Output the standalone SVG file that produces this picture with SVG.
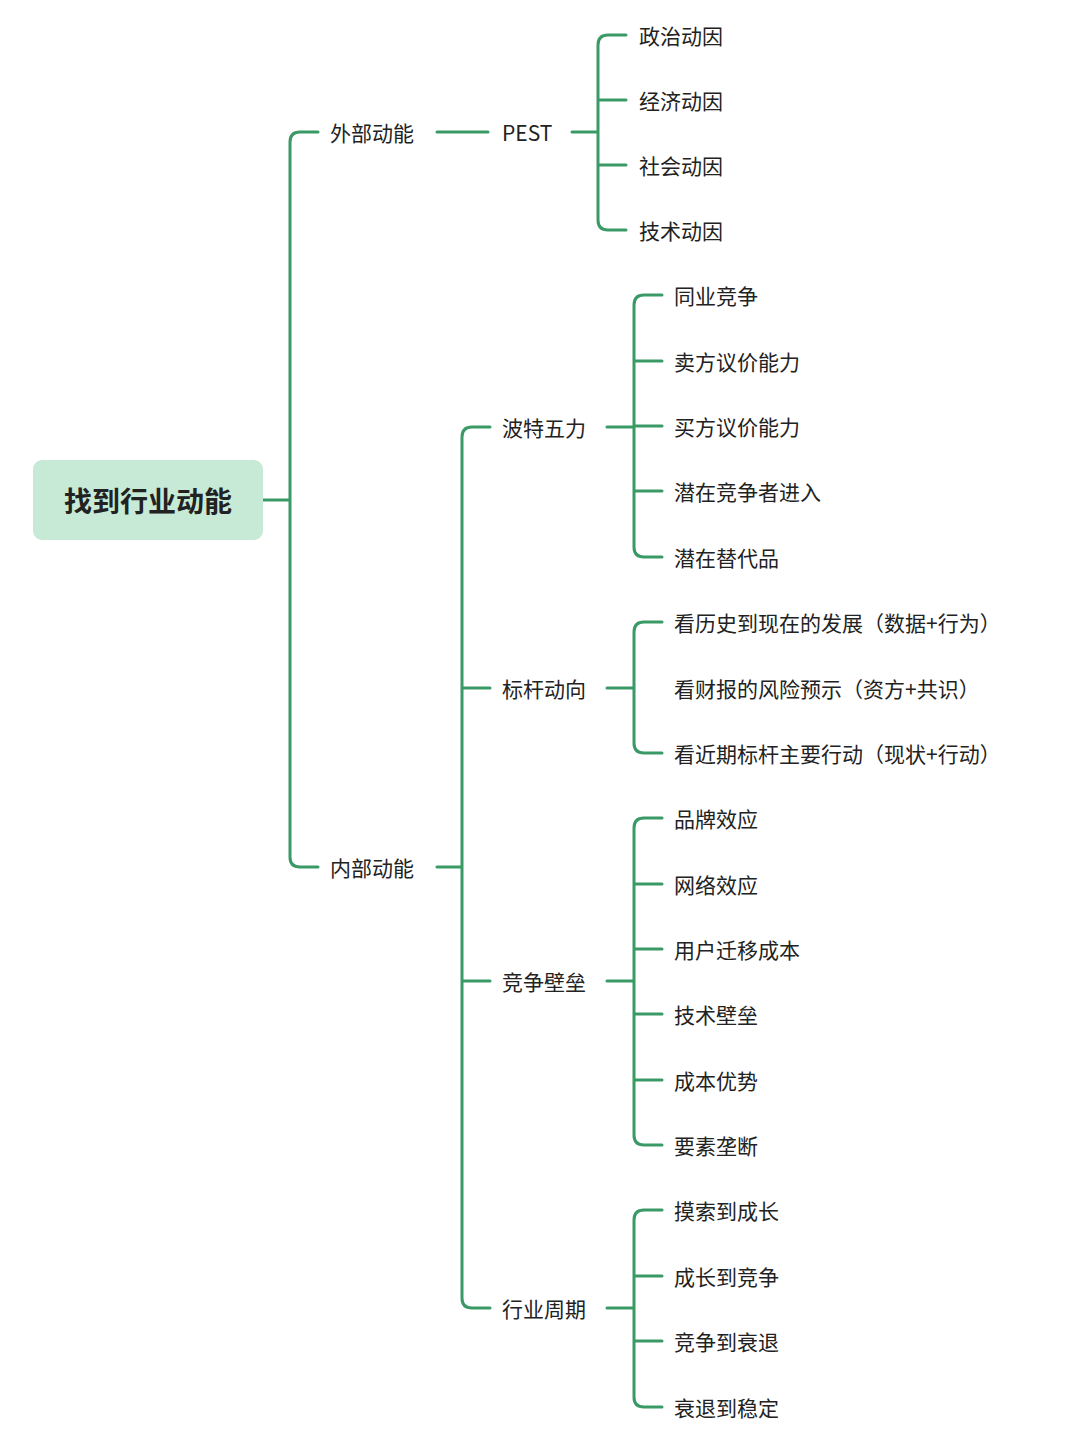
<svg xmlns="http://www.w3.org/2000/svg" width="1080" height="1440" viewBox="0 0 1080 1440">
<style>
text{font-family:"Noto Sans CJK SC","Noto Sans",sans-serif;font-size:21px;fill:#222;dominant-baseline:central}
.root{font-size:28px;font-weight:bold;text-anchor:middle}
.c{fill:none;stroke:#3a9a66;stroke-width:3;stroke-linecap:round}
</style>
<rect width="1080" height="1440" fill="#fff"/>
<g id="connectors" class="c">
<path d="M263 500H290M318 132H300Q290 132 290 142V857Q290 867 300 867H318"/>
<path d="M437 132H488M572 132H598M626 35H608Q598 35 598 45V220Q598 230 608 230H626M598 100H626M598 165H626"/>
<path d="M437 867H462M490 427H472Q462 427 462 437V1298Q462 1308 472 1308H490M462 688H490M462 981H490"/>
<path d="M607 427H634M662 295H644Q634 295 634 305V547Q634 557 644 557H662M634 361H662M634 426H662M634 491H662"/>
<path d="M607 688H634M662 622H644Q634 622 634 632V743Q634 753 644 753H662"/>
<path d="M607 981H634M662 818H644Q634 818 634 828V1135Q634 1145 644 1145H662M634 884H662M634 949H662M634 1014H662M634 1080H662"/>
<path d="M607 1308H634M662 1210H644Q634 1210 634 1220V1397Q634 1407 644 1407H662M634 1276H662M634 1341H662"/>
</g>
<g id="root"><rect x="33" y="460" width="230" height="80" rx="9" fill="#c6ead6"/><text class="root" x="148" y="500">找到行业动能</text></g>
<g id="n1"><text x="330" y="132">外部动能</text></g>
<g id="n2"><text x="502" y="132">PEST</text></g>
<g id="l1"><text x="639" y="35">政治动因</text><text x="639" y="100">经济动因</text><text x="639" y="165">社会动因</text><text x="639" y="230">技术动因</text></g>
<g id="n3"><text x="330" y="867">内部动能</text></g>
<g id="n4"><text x="502" y="427">波特五力</text></g>
<g id="n5"><text x="502" y="688">标杆动向</text></g>
<g id="n6"><text x="502" y="981">竞争壁垒</text></g>
<g id="n7"><text x="502" y="1308">行业周期</text></g>
<g id="l4"><text x="674" y="295">同业竞争</text><text x="674" y="361">卖方议价能力</text><text x="674" y="426">买方议价能力</text><text x="674" y="491">潜在竞争者进入</text><text x="674" y="557">潜在替代品</text></g>
<g id="l5"><text x="674" y="622">看历史到现在的发展（数据+行为）</text><text x="674" y="688">看财报的风险预示（资方+共识）</text><text x="674" y="753">看近期标杆主要行动（现状+行动）</text></g>
<g id="l6"><text x="674" y="818">品牌效应</text><text x="674" y="884">网络效应</text><text x="674" y="949">用户迁移成本</text><text x="674" y="1014">技术壁垒</text><text x="674" y="1080">成本优势</text><text x="674" y="1145">要素垄断</text></g>
<g id="l7"><text x="674" y="1210">摸索到成长</text><text x="674" y="1276">成长到竞争</text><text x="674" y="1341">竞争到衰退</text><text x="674" y="1407">衰退到稳定</text></g>
</svg>
